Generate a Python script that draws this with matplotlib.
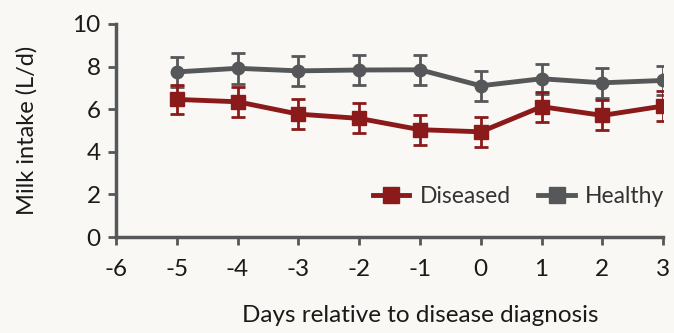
import numpy as np
import matplotlib.pyplot as plt
from matplotlib.lines import Line2D

# datos
dias = [-5, -4, -3, -2, -1, 0, 1, 2, 3]
sanos = [7.75, 7.92, 7.8, 7.84, 7.85, 7.1, 7.43, 7.24, 7.35]
sanos_err = [0.7, 0.72, 0.7, 0.7, 0.7, 0.7, 0.7, 0.7, 0.7]
enfermos = [6.46, 6.35, 5.77, 5.57, 5.04, 4.94, 6.12, 5.71, 6.15]
enfermos_err = [0.7, 0.7, 0.72, 0.7, 0.7, 0.7, 0.7, 0.7, 0.7]

fondo = '#f9f8f5'
rojo = '#8b1a1a'
gris = '#555759'

plt.rcParams['font.family'] = ['Lato', 'DejaVu Sans']
plt.rcParams['axes.unicode_minus'] = False

fig = plt.figure(figsize=(6.74, 3.33), dpi=100, facecolor=fondo)
ax = fig.add_axes([0.172, 0.288, 0.812, 0.64], facecolor=fondo)

ax.errorbar(dias, sanos, yerr=sanos_err, color=gris, marker='o', markersize=9,
            linewidth=3.5, elinewidth=2, capsize=5, capthick=2, zorder=2)
ax.errorbar(dias, enfermos, yerr=enfermos_err, color=rojo, marker='s', markersize=10,
            linewidth=3.5, elinewidth=2, capsize=5, capthick=2, zorder=3)

ax.set_xlim(-6, 3)
ax.set_ylim(0, 10)
ax.set_xticks(range(-6, 4))
ax.set_yticks(range(0, 11, 2))
ax.tick_params(labelsize=17.5, color=gris, width=2, length=6, labelcolor='#1a1a1a')
ax.tick_params(axis='x', pad=10)
ax.tick_params(axis='y', pad=5)
ax.set_xlabel('Days relative to disease diagnosis', fontsize=17.5, color='#1a1a1a')
ax.xaxis.set_label_coords(0.556, -0.32)
ax.set_ylabel('Milk intake (L/d)', fontsize=17, labelpad=25, color='#1a1a1a')

for lado in ['top', 'right']:
    ax.spines[lado].set_visible(False)
for lado in ['left', 'bottom']:
    ax.spines[lado].set_color(gris)
    ax.spines[lado].set_linewidth(2.5)
ax.spines['left'].set_bounds(0, 10)

manejadores = [
    Line2D([], [], color=rojo, marker='s', markersize=11, linewidth=3.5),
    Line2D([], [], color=gris, marker='s', markersize=11, linewidth=3.5),
]
ax.legend(manejadores, ['Diseased', 'Healthy'], loc='lower right', bbox_to_anchor=(1.04, 0.045),
          ncol=2, frameon=False, fontsize=16.5, handlelength=1.6, columnspacing=1.2,
          handletextpad=0.45, labelcolor='#333333')

fig.savefig('out.png', dpi=100, facecolor=fondo)
